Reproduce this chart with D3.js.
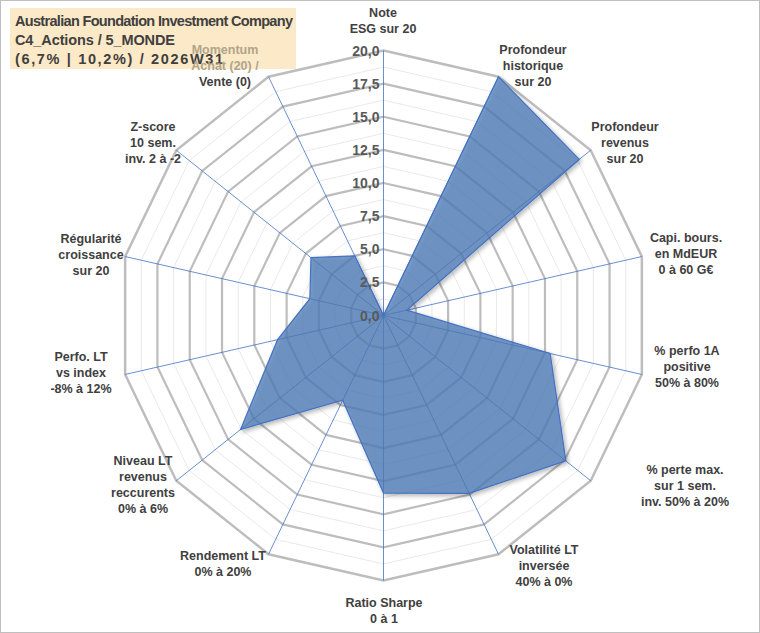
<!DOCTYPE html>
<html><head><meta charset="utf-8">
<script src="https://cdn.jsdelivr.net/npm/d3@7"></script>
<style>body{margin:0;background:#fff}text{font-family:Arial,"Liberation Sans",sans-serif}</style>
</head><body><svg id="c" width="760" height="633"></svg>
<script>
const axes = [
  ["Note", "ESG sur 20"],
  ["Profondeur", "historique", "sur 20"],
  ["Profondeur", "revenus", "sur 20"],
  ["Capi. bours.", "en MdEUR", "0 à 60 G€"],
  ["% perfo 1A", "positive", "50% à 80%"],
  ["% perte max.", "sur 1 sem.", "inv. 50% à 20%"],
  ["Volatilité LT", "inversée", "40% à 0%"],
  ["Ratio Sharpe", "0 à 1"],
  ["Rendement LT", "0% à 20%"],
  ["Niveau LT", "revenus", "reccurents", "0% à 6%"],
  ["Perfo. LT", "vs index", "-8% à 12%"],
  ["Régularité", "croissance", "sur 20"],
  ["Z-score", "10 sem.", "inv. 2 à -2"],
  ["Momentum", "Achat (20) /", "Vente (0)"]
];
const values = [0, 20, 18.9, 1.8, 12.9, 17.6, 14.9, 13.4, 7.1, 13.8, 8.2, 5.7, 7.0, 5.0];
const ticks = [0, 2.5, 5, 7.5, 10, 12.5, 15, 17.5, 20];
const titleLines = ["Australian Foundation Investment Company", "C4_Actions / 5_MONDE", "(6,7% | 10,2%) / 2026W31"];

const svg = d3.select("#c");
svg.append("rect").attr("x", 0.5).attr("y", 0.5).attr("width", 759).attr("height", 632)
  .attr("fill", "#fff").attr("stroke", "#bfbfbf");

const cx = 383.5, cy = 315.5, R = 265;
const n = axes.length;
const r = d3.scaleLinear().domain([0, 20]).range([0, R]);
const ang = i => i * 2 * Math.PI / n;
const pt = (i, v) => [cx + r(v) * Math.sin(ang(i)), cy - r(v) * Math.cos(ang(i))];
const ring = v => d3.range(n).map(i => pt(i, v));
const line = d3.line().curve(d3.curveLinearClosed);

const g = svg.append("g");
// minor rings
d3.range(0, 20, 1.25).filter(v => v > 0 && v % 2.5 !== 0).forEach(v => {
  g.append("path").attr("d", line(ring(v))).attr("fill", "none").attr("stroke", "#e3e3e3").attr("stroke-width", 0.8);
});
ticks.filter(v => v > 0).forEach(v => {
  g.append("path").attr("d", line(ring(v))).attr("fill", "none")
    .attr("stroke", "#bdbdbd").attr("stroke-width", v === 20 ? 2.5 : 2.2);
});
// spokes
d3.range(n).forEach(i => {
  const [x, y] = pt(i, 20);
  g.append("line").attr("x1", cx).attr("y1", cy).attr("x2", x).attr("y2", y)
    .attr("stroke", "#4472c4").attr("stroke-width", 0.8);
});
// data
const defs = svg.append("defs");
const f = defs.append("filter").attr("id", "sh").attr("x", "-20%").attr("y", "-20%").attr("width", "140%").attr("height", "140%");
f.append("feDropShadow").attr("dx", 2).attr("dy", 2).attr("stdDeviation", 2).attr("flood-color", "#000").attr("flood-opacity", 0.35);
g.append("path").attr("d", line(values.map((v, i) => pt(i, v))))
  .attr("fill", "#4f7cb8").attr("fill-opacity", 0.75).attr("stroke", "#4472c4").attr("stroke-width", 1.2)
  .attr("filter", "url(#sh)");

// tick labels
ticks.forEach(v => {
  g.append("text").attr("x", cx - 4).attr("y", cy - r(v) + 5).attr("text-anchor", "end")
    .attr("font-size", 14).attr("font-weight", "bold").attr("fill", "#595959")
    .text(d3.format(".1f")(v).replace(".", ","));
});

// title box
svg.append("rect").attr("x", 10).attr("y", 8).attr("width", 286).attr("height", 61).attr("fill", "#fbe5bd").attr("opacity", 0.85);
titleLines.forEach((t, i) => {
  svg.append("text").attr("x", 15).attr("y", 26 + i * 19).attr("font-size", 14.5).attr("font-weight", 600)
    .attr("font-family", "'Open Sans',sans-serif").attr("fill", "#404040").attr("textLength", [278, 160, 208][i])
    .text(t);
});

// axis labels
const lab = svg.append("g");
const lp = [
  [383, 17], [533, 54], [625, 131], [686, 242], [687, 355], [685, 474], [544, 554],
  [384, 607], [223, 560], [143, 465], [81, 361], [91, 243], [153, 131], [225, 54]
];
axes.forEach((a, i) => {
  const t = lab.append("text").attr("text-anchor", "middle").attr("font-size", 12.5)
    .attr("font-weight", "bold").attr("fill", "#404040");
  a.forEach((s, k) => {
    const greyish = i === 13 && k < 2;
    t.append("tspan").attr("x", lp[i][0]).attr("y", lp[i][1] + k * 16)
      .attr("fill", greyish ? "#b0a58a" : null).text(s);
  });
});
</script></body></html>
